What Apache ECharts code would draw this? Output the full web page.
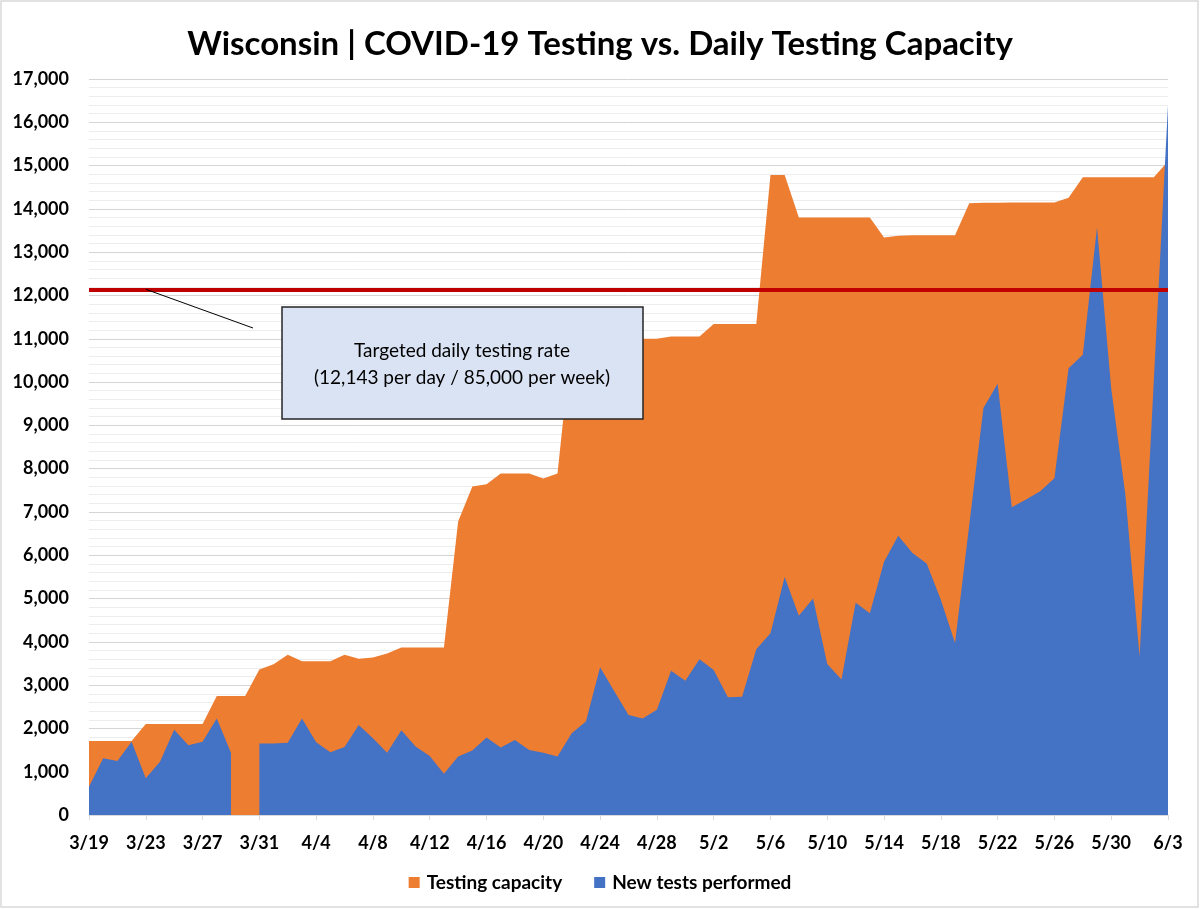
<!DOCTYPE html>
<html>
<head>
<meta charset="utf-8">
<script src="https://cdn.jsdelivr.net/npm/echarts@6/dist/echarts.min.js"></script>
<style>
  html, body { margin: 0; padding: 0; background: #ffffff; }
  #chart { width: 1200px; height: 909px; }
</style>
</head>
<body>
<div id="chart"></div>
<script>
// ---- data ----
const dates = [
  '3/19','3/20','3/21','3/22','3/23','3/24','3/25','3/26','3/27','3/28','3/29','3/30','3/31',
  '4/1','4/2','4/3','4/4','4/5','4/6','4/7','4/8','4/9','4/10','4/11','4/12','4/13','4/14','4/15',
  '4/16','4/17','4/18','4/19','4/20','4/21','4/22','4/23','4/24','4/25','4/26','4/27','4/28','4/29','4/30',
  '5/1','5/2','5/3','5/4','5/5','5/6','5/7','5/8','5/9','5/10','5/11','5/12','5/13','5/14','5/15',
  '5/16','5/17','5/18','5/19','5/20','5/21','5/22','5/23','5/24','5/25','5/26','5/27','5/28','5/29',
  '5/30','5/31','6/1','6/2','6/3'
];

const testingCapacity = [
  1710, 1710, 1710, 1710, 2100, 2100, 2100, 2100, 2100, 2750, 2750, 2750, 3360,
  3480, 3700, 3550, 3550, 3550, 3700, 3610, 3640, 3730, 3870, 3870, 3870, 3870, 6780, 7590,
  7640, 7890, 7890, 7890, 7770, 7890, 11000, 11000, 11000, 11000, 11000, 11000, 11000, 11050, 11050,
  11050, 11340, 11340, 11340, 11340, 14780, 14780, 13800, 13800, 13800, 13800, 13800, 13800, 13340, 13380,
  13390, 13390, 13390, 13390, 14130, 14140, 14140, 14150, 14150, 14150, 14150, 14260, 14730, 14730,
  14730, 14730, 14730, 14730, 15100
];

const newTestsPerformed = [
  650, 1310, 1250, 1690, 850, 1230, 1970, 1610, 1690, 2230, 1440, null, 1650,
  1650, 1670, 2230, 1680, 1450, 1570, 2080, 1770, 1440, 1960, 1580, 1360, 950, 1350, 1490,
  1790, 1560, 1730, 1500, 1440, 1350, 1890, 2160, 3410, 2860, 2310, 2230, 2430, 3330, 3100,
  3600, 3350, 2720, 2730, 3830, 4200, 5500, 4600, 5000, 3490, 3130, 4900, 4660, 5850, 6450,
  6050, 5810, 4970, 3970, 6700, 9400, 9960, 7110, 7290, 7480, 7780, 10320, 10630, 13570,
  9850, 7390, 3660, 10030, 16400
];

const targetDaily = 12143;
const yTicks = [0, 1000, 2000, 3000, 4000, 5000, 6000, 7000, 8000, 9000, 10000,
                11000, 12000, 13000, 14000, 15000, 16000, 17000];

const titleText = 'Wisconsin | COVID-19 Testing vs. Daily Testing Capacity';
const seriesNames = ['Testing capacity', 'New tests performed'];
const noteLines = ['Targeted daily testing rate', '(12,143 per day / 85,000 per week)'];

// ---- chart ----
const FONT = 'Lato, "Open Sans", sans-serif';
const chart = echarts.init(document.getElementById('chart'), null, { renderer: 'canvas' });

const option = {
  animation: false,
  backgroundColor: '#ffffff',
  title: {
    text: titleText,
    left: 'center',
    top: 19,
    textStyle: { fontFamily: FONT, fontWeight: 'bold', fontSize: 33, color: '#000000', lineHeight: 40 }
  },
  legend: {
    data: seriesNames,
    left: 'center',
    top: 868,
    icon: 'rect',
    itemWidth: 11,
    itemHeight: 11,
    itemGap: 32,
    textStyle: { fontFamily: FONT, fontWeight: 'bold', fontSize: 19, color: '#000000', padding: [0, 0, 0, 2] }
  },
  grid: { left: 89, right: 32, top: 79, bottom: 94, containLabel: false },
  xAxis: {
    type: 'category',
    data: dates,
    boundaryGap: false,
    axisLine: { show: true, lineStyle: { color: '#d9d9d9', width: 1 } },
    axisTick: { show: true, interval: 3, length: 5, lineStyle: { color: '#d9d9d9' } },
    axisLabel: { interval: 3, margin: 19, fontFamily: FONT, fontWeight: 'bold', fontSize: 18, color: '#000000' },
    splitLine: { show: false }
  },
  yAxis: {
    type: 'value',
    min: yTicks[0],
    max: yTicks[yTicks.length - 1],
    interval: yTicks[1] - yTicks[0],
    axisLine: { show: false },
    axisTick: { show: false },
    axisLabel: {
      margin: 20,
      fontFamily: FONT, fontWeight: 'bold', fontSize: 18, color: '#000000',
      formatter: v => v.toLocaleString('en-US')
    },
    splitLine: { show: true, lineStyle: { color: '#d4d4d4', width: 1 } },
    minorTick: { show: false, splitNumber: 5 },
    minorSplitLine: { show: true, lineStyle: { color: '#ededed', width: 1 } }
  },
  series: [
    {
      name: seriesNames[0],
      type: 'line',
      data: testingCapacity,
      color: '#ED7D31',
      symbol: 'none',
      lineStyle: { width: 0, color: '#ED7D31' },
      areaStyle: { color: '#ED7D31', opacity: 1 },
      z: 2,
      silent: true
    },
    {
      name: seriesNames[1],
      type: 'line',
      data: newTestsPerformed,
      color: '#4472C4',
      symbol: 'none',
      connectNulls: false,
      lineStyle: { width: 0, color: '#4472C4' },
      areaStyle: { color: '#4472C4', opacity: 1 },
      z: 3,
      silent: true,
      markLine: {
        silent: true,
        symbol: ['none', 'none'],
        label: { show: false },
        lineStyle: { color: '#C00000', width: 4, type: 'solid' },
        emphasis: { disabled: true },
        data: [{ yAxis: targetDaily }]
      }
    }
  ]
};
chart.setOption(option);

// annotation: leader line + callout box (anchored on the target line)
const anchor = chart.convertToPixel({ gridIndex: 0 }, [3.8, targetDaily]);
chart.setOption({
  graphic: [
    {
      type: 'rect', silent: true, z: 0,
      shape: { x: 1, y: 1, width: 1197, height: 906 },
      style: { fill: null, stroke: '#d9d9d9', lineWidth: 1.5 }
    },
    {
      type: 'line', silent: true, z: 100,
      shape: { x1: anchor[0], y1: anchor[1], x2: 253, y2: 328 },
      style: { stroke: '#000000', lineWidth: 1 }
    },
    {
      type: 'rect', silent: true, z: 100,
      shape: { x: 282, y: 307, width: 361, height: 112 },
      style: { fill: '#DAE3F3', stroke: '#262626', lineWidth: 1.5 }
    },
    {
      type: 'text', silent: true, z: 101,
      x: 462, y: 351,
      style: { text: noteLines[0], font: '19px ' + FONT, fill: '#000000', align: 'center', verticalAlign: 'middle' }
    },
    {
      type: 'text', silent: true, z: 101,
      x: 462, y: 378,
      style: { text: noteLines[1], font: '19px ' + FONT, fill: '#000000', align: 'center', verticalAlign: 'middle' }
    }
  ]
});
</script>
</body>
</html>
